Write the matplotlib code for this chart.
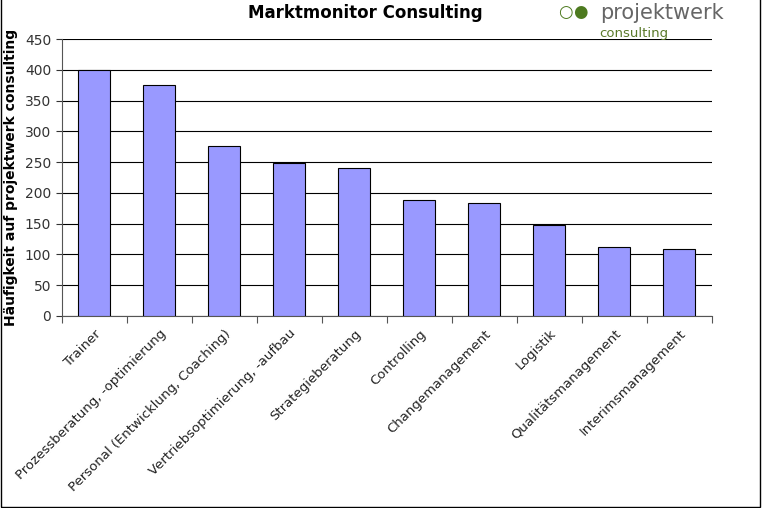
import matplotlib.pyplot as plt

categories = ["Trainer", "Prozessberatung, -optimierung", "Personal (Entwicklung, Coaching)",
              "Vertriebsoptimierung, -aufbau", "Strategieberatung", "Controlling",
              "Changemanagement", "Logistik", "Qualitätsmanagement", "Interimsmanagement"]
values = [400, 376, 277, 248, 241, 189, 183, 148, 112, 109]
yticks = list(range(0, 451, 50))

fig = plt.figure(figsize=(7.62, 5.08), dpi=100)
ax = fig.add_axes([0.081, 0.378, 0.853, 0.545])
x = range(len(categories))
ax.bar(x, values, width=0.5, color="#9999FF", edgecolor="black", linewidth=0.8, zorder=3)
ax.set_xlim(-0.5, len(categories) - 0.5)
ax.set_ylim(0, 450)
ax.set_yticks(yticks)
ax.yaxis.grid(True, color="black", linewidth=0.8, zorder=0)
ax.set_xticks([i - 0.5 for i in range(len(categories) + 1)], minor=False)
ax.set_xticklabels([])
ax.set_xticks(list(x), minor=True)
ax.set_xticklabels(categories, minor=True, rotation=45, ha="right", rotation_mode="anchor",
                   fontsize=9.5, color="#222222")
ax.tick_params(axis="x", which="minor", length=0, pad=8)
ax.tick_params(axis="x", which="major", length=5, direction="out", color="#555555")
ax.tick_params(axis="y", labelsize=10, colors="#333333", length=4)
for s in ["top", "right"]:
    ax.spines[s].set_visible(False)
ax.spines["left"].set_color("#555555")
ax.spines["bottom"].set_color("#555555")
ax.set_ylabel("Häufigkeit auf projektwerk consulting", fontsize=10, fontweight="bold", labelpad=8)
ax.yaxis.set_label_coords(-0.068, 0.5)

fig.text(0.48, 0.975, "Marktmonitor Consulting", fontsize=12, fontweight="bold", ha="center", va="center")
fig.text(0.742, 0.977, "\u25cb", fontsize=12, color="#4d7a1f", ha="center", va="center", fontweight="bold")
fig.text(0.762, 0.977, "\u25cf", fontsize=12, color="#4d7a1f", ha="center", va="center")
fig.text(0.787, 0.975, "projektwerk", fontsize=15, color="#666666", ha="left", va="center")
fig.text(0.787, 0.935, "consulting", fontsize=9.5, color="#5a7a2a", ha="left", va="center")

border = plt.Rectangle((0.001, 0.001), 0.996, 1.2, transform=fig.transFigure, fill=False,
                       edgecolor="black", linewidth=1)
fig.add_artist(border)
fig.savefig("out.png", dpi=100)
